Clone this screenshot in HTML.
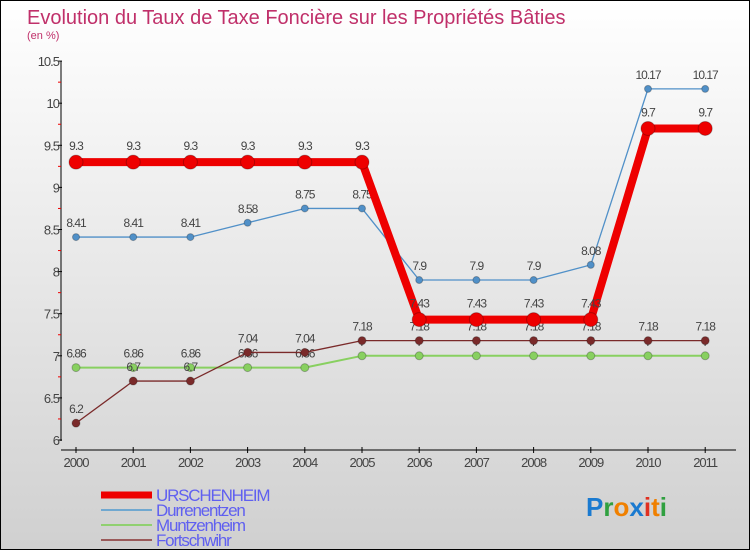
<!DOCTYPE html>
<html><head><meta charset="utf-8"><style>
body{margin:0;}
#wrap{width:748px;height:548px;border:1px solid #000;background:linear-gradient(#ffffff,#d0d0d0);position:relative;overflow:hidden;font-family:"Liberation Sans",sans-serif;}
</style></head><body>
<div id="wrap">
<svg id="chart" width="748" height="548"></svg>
</div>
<script>
const years=["2000","2001","2002","2003","2004","2005","2006","2007","2008","2009","2010","2011"];
const urschenheim=[9.3,9.3,9.3,9.3,9.3,9.3,7.43,7.43,7.43,7.43,9.7,9.7];
const durrenentzen=[8.41,8.41,8.41,8.58,8.75,8.75,7.9,7.9,7.9,8.08,10.17,10.17];
const muntzenheim=[6.86,6.86,6.86,6.86,6.86,7,7,7,7,7,7,7];
const fortschwihr=[6.2,6.7,6.7,7.04,7.04,7.18,7.18,7.18,7.18,7.18,7.18,7.18];
const yTicks=["6","6.5","7","7.5","8","8.5","9","9.5","10","10.5"];
const seriesNames=["URSCHENHEIM","Durrenentzen","Muntzenheim","Fortschwihr"];

const NS="http://www.w3.org/2000/svg";
const svg=document.getElementById('chart');
const X=i=>75+i*57.2;
const Y=v=>439-(v-6)*84.2;
function el(tag,attrs,parent){const e=document.createElementNS(NS,tag);for(const k in attrs)e.setAttribute(k,attrs[k]);(parent||svg).appendChild(e);return e;}
function txt(s,x,y,attrs){const t=el('text',Object.assign({x:x,y:y},attrs));t.textContent=s;return t;}

let t=txt("Evolution du Taux de Taxe Foncière sur les Propriétés Bâties",26,23,{fill:"#c0306a","font-size":"20","font-weight":"300"});


t=txt("(en %)",26,38,{fill:"#c0306a","font-size":"11"});



let a=el('line',{x1:60,y1:60,x2:60,y2:440,stroke:"#000","stroke-width":1});


a=el('line',{x1:60,y1:449,x2:735,y2:449,stroke:"#000","stroke-width":1});


yTicks.forEach(s=>{const v=parseFloat(s);const y=Y(v);
 el('line',{x1:57,y1:y,x2:61,y2:y,stroke:"#000"});
 if(v<10.5) el('line',{x1:57,y1:Y(v+0.25),x2:60,y2:Y(v+0.25),stroke:"#e00"});
 const l=txt(s,58,y+5,{"text-anchor":"end","font-size":"13",fill:"#444","letter-spacing":"-1"});
 
 
});
years.forEach((s,i)=>{const x=X(i);
 el('line',{x1:x,y1:446,x2:x,y2:452,stroke:"#000"});
 const l=txt(s,x,466,{"text-anchor":"middle","font-size":"13",fill:"#444","letter-spacing":"-1"});
 
 
});

function series(data,color,lw,r,name,lblDy){
 const g=el('g',{});
 
 
 el('polyline',{points:data.map((v,i)=>X(i)+","+Y(v)).join(" "),fill:"none",stroke:color,"stroke-width":lw,"stroke-linejoin":"round"},g);
 data.forEach((v,i)=>{
  const c=el('circle',{cx:X(i),cy:Y(v),r:r,fill:color,stroke:"rgba(0,0,0,0.25)","stroke-width":1},g);
  
  
  const l=txt(String(v),X(i),Y(v)-lblDy,{"text-anchor":"middle","font-size":"12",fill:"#444","letter-spacing":"-1"});
  
  
 });
}
series(muntzenheim,"#88d060",2,4,"muntzenheim",10);
series(fortschwihr,"#7a2a2a",1.3,4,"fortschwihr",10);
series(durrenentzen,"#5090c8",1.3,3.5,"durrenentzen",10);
series(urschenheim,"#ee0000",8,7,"urschenheim",12);

const legColors=["#ee0000","#70a8d0","#90d070","#9a5a5a"];
const legW=[7,2,2,2];
seriesNames.forEach((n,i)=>{const y=494+i*15;
 const g=el('g',{});
 
 
 el('line',{x1:100,y1:y,x2:151,y2:y,stroke:legColors[i],"stroke-width":legW[i]},g);
 txt(n,155,y+6,{"font-size":"17",fill:"#6060f0","letter-spacing":"-1.2"},g);
 g.appendChild(g.lastChild);
});

const lg=el('text',{x:585,y:515,"font-size":"26","font-weight":"bold"});


[["P","#1a7ad0"],["r","#30a040"],["o","#f08000"],["x","#1a7ad0"],["i","#e03020"],["t","#f08000"],["i","#30a040"]].forEach(([c,f])=>{const s=el('tspan',{fill:f},lg);s.textContent=c;});
</script>
</body></html>
